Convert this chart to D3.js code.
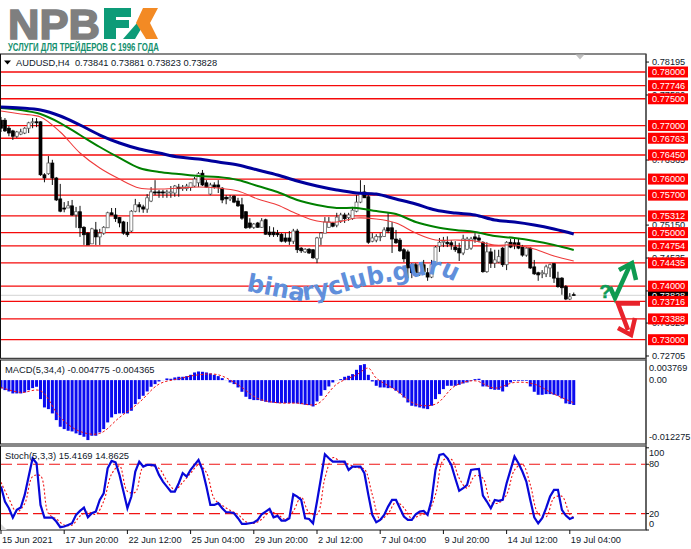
<!DOCTYPE html>
<html>
<head>
<meta charset="utf-8">
<script src="https://cdn.jsdelivr.net/npm/d3@7/dist/d3.min.js"></script>
<style>
html,body{margin:0;padding:0;background:#fff;overflow:hidden}
svg{display:block}
text{font-family:"Liberation Sans",Arial,sans-serif}
</style>
</head>
<body>
<svg id="c" width="691" height="549"></svg>
<script>
const symbolTitle = "AUDUSD,H4  0.73841 0.73881 0.73823 0.73828";
const macdTitle = "MACD(5,34,4) -0.004775 -0.004365";
const stochTitle = "Stoch(5,3,3) 15.4169 14.8625";
const slogan = "УСЛУГИ ДЛЯ ТРЕЙДЕРОВ С 1996 ГОДА";
const watermark = "binaryclub.guru";

const open = [.7710,.7710,.7695,.7690,.7680,.7684,.7686,.7695,.7705,.7707,.7707,.7608,.7610,.7630,.7602,.7563,.7546,.7546,.7550,.7533,.7539,.7510,.7499,.7479,.7505,.7492,.7499,.7509,.7537,.7533,.7528,.7520,.7501,.7503,.7540,.7552,.7548,.7544,.7559,.7576,.7576,.7576,.7574,.7574,.7574,.7585,.7582,.7582,.7584,.7587,.7593,.7611,.7593,.7572,.7589,.7589,.7583,.7566,.7563,.7568,.7559,.7552,.7539,.7518,.7510,.7518,.7510,.7524,.7501,.7501,.7499,.7497,.7490,.7490,.7484,.7503,.7471,.7464,.7469,.7468,.7451,.7490,.7499,.7510,.7518,.7514,.7522,.7533,.7528,.7526,.7540,.7557,.7576,.7567,.7484,.7486,.7492,.7493,.7509,.7509,.7488,.7486,.7468,.7464,.7440,.7440,.7425,.7440,.7425,.7417,.7443,.7475,.7482,.7482,.7481,.7473,.7471,.7462,.7469,.7471,.7492,.7490,.7482,.7427,.7464,.7443,.7445,.7471,.7440,.7482,.7481,.7481,.7473,.7458,.7471,.7436,.7425,.7423,.7423,.7434,.7442,.7415,.7415,.7399,.7376,.73841];
const high = [.7716,.7714,.7699,.7692,.7690,.7694,.7697,.7707,.7714,.7714,.7708,.7611,.7643,.7636,.7604,.7591,.7557,.7559,.7561,.7548,.7550,.7512,.7501,.7509,.7520,.7507,.7512,.7539,.7546,.7546,.7529,.7522,.7520,.7542,.7563,.7557,.7552,.7572,.7585,.7598,.7580,.7580,.7580,.7587,.7589,.7591,.7589,.7591,.7593,.7604,.7613,.7617,.7598,.7593,.7594,.7598,.7585,.7570,.7570,.7570,.7565,.7565,.7540,.7527,.7518,.7520,.7527,.7526,.7512,.7510,.7505,.7499,.7499,.7503,.7507,.7507,.7473,.7471,.7471,.7469,.7492,.7501,.7529,.7529,.7520,.7537,.7537,.7537,.7537,.7548,.7570,.7598,.7589,.7574,.7499,.7497,.7499,.7510,.7537,.7520,.7505,.7490,.7471,.7468,.7443,.7443,.7445,.7449,.7434,.7449,.7475,.7490,.7492,.7493,.7486,.7484,.7481,.7496,.7492,.7492,.7499,.7496,.7484,.7482,.7471,.7468,.7468,.7473,.7484,.7488,.7488,.7490,.7477,.7473,.7473,.7449,.7427,.7430,.7440,.7442,.7443,.7427,.7417,.7402,.7387,.73881];
const low = [.7688,.7688,.7680,.7673,.7677,.7682,.7684,.7686,.7695,.7697,.7606,.7594,.7608,.7589,.7559,.7538,.7538,.7546,.7531,.7509,.7492,.7477,.7477,.7479,.7477,.7477,.7496,.7509,.7533,.7520,.7510,.7496,.7492,.7501,.7538,.7538,.7537,.7537,.7557,.7570,.7565,.7565,.7565,.7565,.7567,.7567,.7578,.7578,.7578,.7585,.7585,.7587,.7584,.7570,.7582,.7574,.7555,.7553,.7559,.7555,.7548,.7524,.7507,.7507,.7507,.7509,.7509,.7496,.7492,.7492,.7492,.7482,.7481,.7477,.7479,.7462,.7462,.7462,.7460,.7451,.7443,.7477,.7499,.7509,.7510,.7510,.7518,.7518,.7522,.7524,.7538,.7555,.7565,.7479,.7482,.7482,.7484,.7492,.7499,.7462,.7479,.7464,.7445,.7415,.7415,.7417,.7419,.7425,.7410,.7415,.7440,.7464,.7473,.7473,.7468,.7464,.7447,.7458,.7468,.7468,.7481,.7482,.7425,.7425,.7434,.7434,.7443,.7436,.7430,.7471,.7469,.7469,.7455,.7455,.7432,.7421,.7410,.7415,.7417,.7417,.7406,.7397,.7384,.7374,.7374,.73823];
const close = [.7695,.7690,.7686,.7680,.7688,.7688,.7695,.7705,.7707,.7705,.7608,.7602,.7630,.7602,.7561,.7540,.7544,.7550,.7533,.7539,.7509,.7496,.7477,.7507,.7492,.7499,.7510,.7537,.7533,.7526,.7518,.7499,.7496,.7540,.7552,.7548,.7544,.7565,.7576,.7574,.7574,.7574,.7576,.7576,.7587,.7582,.7585,.7587,.7593,.7600,.7610,.7589,.7585,.7589,.7585,.7585,.7561,.7563,.7566,.7557,.7550,.7527,.7509,.7510,.7516,.7510,.7522,.7497,.7496,.7496,.7496,.7484,.7484,.7484,.7503,.7468,.7466,.7469,.7462,.7453,.7490,.7499,.7520,.7520,.7512,.7529,.7533,.7526,.7533,.7542,.7557,.7574,.7565,.7482,.7490,.7493,.7493,.7505,.7503,.7488,.7481,.7466,.7451,.7434,.7425,.7425,.7440,.7427,.7417,.7440,.7473,.7482,.7484,.7479,.7477,.7468,.7462,.7488,.7488,.7488,.7488,.7486,.7427,.7464,.7443,.7449,.7455,.7440,.7482,.7473,.7477,.7471,.7458,.7471,.7434,.7423,.7421,.7425,.7436,.7440,.7415,.7399,.7397,.7376,.7380,.73828];

const maBars = d3.range(0,146,5);
const maSlow = [.77346,.77328,.7729,.77178,.7701,.76823,.76674,.76562,.76487,.76412,.76375,.76319,.76263,.76169,.76076,.75964,.7587,.75796,.7574,.75721,.75628,.75534,.75422,.75366,.75329,.75235,.75198,.75142,.75067,.74974];
const maMid = [.77328,.7729,.77215,.77047,.76823,.76599,.76394,.76207,.76132,.76095,.76057,.76039,.75983,.7587,.75758,.75609,.75516,.7546,.7546,.75403,.75347,.75198,.75105,.75049,.75011,.74936,.74899,.74843,.74768,.74675];
const maFast = [.77271,.77215,.77159,.76879,.76487,.76207,.76001,.75833,.75814,.75833,.75852,.75833,.75777,.75628,.75516,.75347,.75217,.75198,.75273,.75254,.75179,.74992,.74862,.74862,.74843,.74768,.74768,.74694,.74563,.74469];

const levels = [.78,.77746,.775,.77,.76763,.7645,.76,.757,.75312,.75,.74754,.74435,.74,.73716,.73388,.73];
const priceTicks = [.78195,.7758,.76365,.7515,.74535,.7392,.7332,.72705];
const lastPrice = .73828;

const macdHist = [-.0016,-.00192,-.00218,-.00256,-.00256,-.00256,-.00237,-.00192,-.00154,-.00128,-.00365,-.00525,-.00557,-.0064,-.00768,-.00896,-.00941,-.00973,-.00986,-.01024,-.01056,-.01088,-.01152,-.01069,-.01069,-.01005,-.00941,-.00813,-.00717,-.00653,-.0064,-.0064,-.0064,-.00589,-.00461,-.00365,-.00301,-.00218,-.00128,-.00077,-.00026,-.00002,.00032,.00026,.00051,.00064,.00064,.00077,.00102,.00147,.00166,.0016,.00147,.00128,.00102,.00077,.00038,-.00002,-.00045,-.00077,-.00141,-.00224,-.0032,-.00365,-.00384,-.00384,-.00397,-.00416,-.00429,-.00435,-.00442,-.00442,-.00442,-.00442,-.00442,-.00448,-.00461,-.00474,-.0048,-.00506,-.0041,-.00301,-.00192,-.00122,-.00045,-.00002,.00019,.00064,.00083,.00115,.00198,.00288,.00307,.00102,-.00026,-.00109,-.00141,-.00141,-.00154,-.00154,-.00205,-.00256,-.00333,-.00429,-.00493,-.00506,-.00525,-.00544,-.00557,-.00493,-.00365,-.00269,-.00173,-.00109,-.00109,-.00109,-.0009,-.00064,-.00045,-.00013,.00019,.00026,-.00122,-.00122,-.00173,-.00186,-.00186,-.00218,-.00128,-.00045,-.00013,-.00013,-.00013,-.00013,-.00122,-.00224,-.00282,-.00282,-.00269,-.00269,-.00282,-.00301,-.00352,-.00448,-.00461,-.004775];
const macdSignalBars = [0,5,10,15,20,25,30,35,40,45,50,55,60,65,70,75,80,85,90,93,95,100,105,110,115,120,125,130,135,140,145];
const macdSignal = [-.00141,-.00237,-.00205,-.00717,-.00986,-.01024,-.00717,-.00429,-.00077,.00026,.00102,.00102,-.0009,-.00352,-.00435,-.00442,-.00461,-.00077,.00102,.0023,.00038,-.00192,-.00461,-.00461,-.00109,-.00013,-.00154,-.00045,-.00077,-.00269,-.004365];
const macdTicks = [.003769,0,-.012275];

const stochMain = [52.8,34.6,26.5,15.1,24.5,27.3,42.7,65,87.3,81.2,30.5,15.1,15.1,15.1,10.3,3.4,4.2,6.2,8.2,18.4,23.2,27.3,15.5,20.4,22.4,36.6,44.7,75.1,84.1,82.4,67,46.8,26.5,40.7,71.1,83.2,77.2,79.2,79.2,78.4,67,58.9,52.8,46.8,46.8,56.9,69.1,65,73.1,79.2,85.3,73.1,52.8,30.5,30.5,32.6,26.5,21.6,21.6,20.4,14.3,7.4,7.4,8.2,9.1,12.3,19.2,22.4,25.7,15.5,17.2,11.5,11.5,14.3,43.5,40.7,36.6,14.3,13.5,8.2,34.6,63,92.2,87.3,83.2,83.2,83.2,83.2,73.1,77.2,77.2,77.2,69.1,42.7,18.4,9.5,12.3,18.4,28.5,36.6,36.6,26.5,16.4,12.3,12.3,19.2,22.4,23.2,18.4,36.6,73.1,91.4,92.6,87.3,79.2,63,47.6,50.8,54.9,73.1,73.9,74.3,41.9,34.6,26.5,36.6,35.4,36.6,56.9,73.1,89.3,81.2,71.1,58.9,36.6,15.5,8.2,14.3,26.5,40.7,48.8,48.8,24.5,17.6,13.5,15.4169];
const stochSignalBars = d3.range(0,145,2).concat([145]);
const stochSignal = [58,38,22,32,65,66,20,13.5,6,6,17,22,19,35,68,78,47,46,77,78,75,60,49,58,69,79,70,38,30,24,19,10,8,13,22,19,13,23,40,21,19,63,88,83,80,76,74,43,13,20,34,27,14,18,21,43,85,86,63,51,66,63,34,33,43,73,80,55,20,16,39,41,19,14.8625];
const stochLevels = [80,20];
const stochTicks = [100,80,20,0];

const tickBars = [0,16,32,48,64,80,96,112,128,144];
const tickLabels = ["15 Jun 2021","17 Jun 20:00","22 Jun 12:00","25 Jun 04:00","29 Jun 20:00","2 Jul 12:00","7 Jul 04:00","9 Jul 20:00","14 Jul 12:00","19 Jul 04:00"];

const svg = d3.select("#c");
const left = 1, axisX = 646;
const x = d3.scaleLinear().domain([0,145]).range([1,573.75]);
const yP = d3.scaleLinear().domain([.73,.78]).range([339.7,72]);
const yM = d3.scaleLinear().domain([-.012275,.003769]).range([444,360.5]);
const yS = d3.scaleLinear().domain([0,100]).range([530,447.8]);

function hline(y,x0,x1,col,w,dash){
  const l=svg.append("line").attr("x1",x0).attr("x2",x1).attr("y1",y).attr("y2",y).attr("stroke",col).attr("stroke-width",w);
  if(dash) l.attr("stroke-dasharray",dash);
  return l;
}

hline(yP(lastPrice),left,axisX,"#dcdcdc",1.4);
svg.append("g").selectAll("line").data(levels).join("line")
  .attr("x1",left).attr("x2",axisX).attr("y1",d=>yP(d)).attr("y2",d=>yP(d))
  .attr("stroke","#f50a0a").attr("stroke-width",1.3);

const bars = d3.range(open.length);
const cg = svg.append("g");
cg.selectAll("line").data(bars).join("line")
  .attr("x1",i=>x(i)).attr("x2",i=>x(i)).attr("y1",i=>yP(high[i])).attr("y2",i=>yP(low[i]))
  .attr("stroke","#111").attr("stroke-width",1);
cg.selectAll("rect").data(bars).join("rect")
  .attr("x",i=>x(i)-1.5).attr("width",3)
  .attr("y",i=>yP(Math.max(open[i],close[i])))
  .attr("height",i=>Math.max(.8,Math.abs(yP(open[i])-yP(close[i]))))
  .attr("fill",i=>close[i]>=open[i]?"#fff":"#000")
  .attr("stroke",i=>close[i]>=open[i]?"#555":"#000")
  .attr("stroke-width",.7);

const seriesLine = (idx,yScale) => d3.line().x((d,k)=>x(idx[k])).y(d=>yScale(d)).curve(d3.curveCatmullRom.alpha(.5));
svg.append("path").attr("d",seriesLine(maBars,yP)(maFast)).attr("fill","none").attr("stroke","#ee3b3b").attr("stroke-width",1.1);
svg.append("path").attr("d",seriesLine(maBars,yP)(maMid)).attr("fill","none").attr("stroke","#008000").attr("stroke-width",2);
svg.append("path").attr("d",seriesLine(maBars,yP)(maSlow)).attr("fill","none").attr("stroke","#00009c").attr("stroke-width",3);

svg.append("g").selectAll("rect").data(macdHist).join("rect")
  .attr("x",(d,i)=>x(i)-1.5).attr("width",3)
  .attr("y",d=>Math.min(yM(0),yM(d))).attr("height",d=>Math.abs(yM(d)-yM(0)))
  .attr("fill","#0a0af0");
svg.append("path").attr("d",seriesLine(macdSignalBars,yM)(macdSignal)).attr("fill","none").attr("stroke","#f01414").attr("stroke-width",1).attr("stroke-dasharray","2.5 2");

stochLevels.forEach(v=>hline(yS(v),left,axisX,"#f01414",1.2,"11 5"));
svg.append("path").attr("d",seriesLine(stochSignalBars,yS)(stochSignal)).attr("fill","none").attr("stroke","#f01414").attr("stroke-width",1.1).attr("stroke-dasharray","2 2");
svg.append("path").attr("d",d3.line().x((d,i)=>x(i)).y(d=>yS(d))(stochMain)).attr("fill","none").attr("stroke","#0808d8").attr("stroke-width",2.2);

function frame(y0,y1){svg.append("rect").attr("x",.5).attr("y",y0).attr("width",axisX-.5).attr("height",y1-y0).attr("fill","none").attr("stroke","#111").attr("stroke-width",1);}
frame(54,358.3); frame(360,444); frame(446,530);
svg.append("line").attr("x1",axisX).attr("x2",axisX).attr("y1",54).attr("y2",530).attr("stroke","#555").attr("stroke-width",1.4);

const txt = "#10182a";
function styleAxis(g){g.select(".domain").remove();g.selectAll("text").attr("fill",txt).style("font-size","9.2px").style("font-family",'"Liberation Sans",Arial,sans-serif');g.selectAll("line").attr("stroke","#111");}
svg.append("g").attr("transform",`translate(${axisX},0)`)
  .call(d3.axisRight(yP).tickValues(priceTicks).tickFormat(d3.format(".5f")).tickSize(3).tickPadding(3)).call(styleAxis);

function tag(val,bg){
  const y=yP(val);
  const g=svg.append("g");
  g.append("rect").attr("x",648).attr("y",y-5.5).attr("width",40).attr("height",11).attr("fill",bg);
  g.append("text").attr("x",652).attr("y",y+3.3).attr("fill","#fff").style("font-size","9.2px").text(d3.format(".5f")(val));
}
tag(lastPrice,"#000");
levels.forEach(v=>tag(v,"#ff0000"));

svg.append("g").selectAll("text").data(macdTicks).join("text")
  .attr("x",649).attr("y",d=>yM(d)+(d>0?10:d<0?-4:3.3)).attr("fill",txt).style("font-size","9.2px")
  .text(d=>d===0?"0.00":String(d));
const stochOff = {100:8.5,80:3,20:3,0:-3.5};
svg.append("g").selectAll("text").data(stochTicks).join("text")
  .attr("x",649).attr("y",d=>yS(d)+stochOff[d]).attr("fill",txt).style("font-size","9.2px").text(d=>d);
svg.append("g").selectAll("line").data(stochTicks).join("line")
  .attr("x1",axisX).attr("x2",axisX+3).attr("y1",d=>yS(d)).attr("y2",d=>yS(d)).attr("stroke","#111");

const tg = svg.append("g").selectAll("g").data(tickBars).join("g").attr("transform",d=>`translate(${x(d)},530)`);
tg.append("line").attr("y1",0).attr("y2",4).attr("stroke","#111");
tg.append("text").attr("x",1).attr("y",12.5).attr("fill",txt).style("font-size","9.2px").text((d,i)=>tickLabels[i]);

svg.append("path").attr("d","M4,60.5L11,60.5L7.5,64.5Z").attr("fill","#000");
svg.append("text").attr("x",16).attr("y",66).attr("fill",txt).style("font-size","9.3px").style("white-space","pre").text(symbolTitle);
svg.append("text").attr("x",5).attr("y",373).attr("fill",txt).style("font-size","9.4px").text(macdTitle);
svg.append("text").attr("x",5).attr("y",459).attr("fill",txt).style("font-size","9.4px").text(stochTitle);
svg.append("path").attr("d","M575.5,54.5L584.5,54.5L580,59.5Z").attr("fill","#c0c0c0");
svg.append("path").attr("d","M1,524L1,530L7,530Z").attr("fill","#d8d8d8");

svg.append("text").attr("x",8).attr("y",39).attr("fill","#7f7f7f").attr("stroke","#7f7f7f").attr("stroke-width",1.6).attr("textLength",92).attr("lengthAdjust","spacingAndGlyphs")
  .style("font-size","42px").style("font-weight","700").text("NPB");
svg.append("path").attr("d","M104,8H131V17H116V20H129V28H116V39H104Z").attr("fill","#0d9b78");
svg.append("path").attr("d","M123,39L137,23L141,29L135,39Z").attr("fill","#0d9b78");
svg.append("path").attr("d","M143,8H158L150,23L158,39H146L136,23Z").attr("fill","#f38a24");
svg.append("text").attr("x",8).attr("y",51).attr("fill","#13906e").attr("textLength",151).attr("lengthAdjust","spacingAndGlyphs")
  .style("font-size","10.5px").style("font-weight","700").text(slogan);

svg.append("defs").append("path").attr("id","wm").attr("d","M246,291 L268,295 L300,301 L330,296 L365,286 L400,280 L430,274 L445,277 L458,283");
svg.append("text").attr("fill","#608fdb").style("font-size","25px").style("font-weight","700")
  .style("font-family",'"DejaVu Sans",sans-serif')
  .append("textPath").attr("href","#wm").attr("textLength",214).attr("lengthAdjust","spacingAndGlyphs").text(watermark);

svg.append("text").attr("x",599.5).attr("y",298).attr("fill","#109a55").attr("stroke","#109a55").attr("stroke-width",.5).style("font-size","19px").style("font-weight","700").text("?");
const aG="#0e9a50", aR="#e8232b";
svg.append("path").attr("d","M610,287L615,298L630,265").attr("fill","none").attr("stroke",aG).attr("stroke-width",4.5);
svg.append("path").attr("d","M619,270L632,263L636,280").attr("fill","none").attr("stroke",aG).attr("stroke-width",4.5);
svg.append("path").attr("d","M640,303.5H618L628,330").attr("fill","none").attr("stroke",aR).attr("stroke-width",4.5);
svg.append("path").attr("d","M618,328L631,335L635,318").attr("fill","none").attr("stroke",aR).attr("stroke-width",4.5);
</script>
</body>
</html>
